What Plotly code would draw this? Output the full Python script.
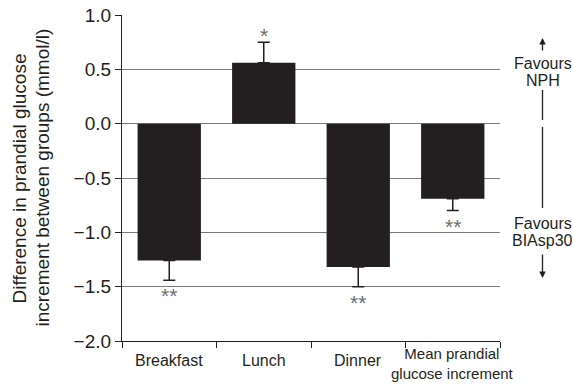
import plotly.graph_objects as go

# Difference in prandial glucose increment (BIAsp30 vs NPH), mmol/l
categories = ["Breakfast", "Lunch", "Dinner", "Mean prandial<br>glucose increment"]
values = [-1.26, 0.56, -1.32, -0.69]
err_up = [0.0, 0.19, 0.0, 0.0]
err_down = [0.18, 0.0, 0.18, 0.11]
significance = ["**", "*", "**", "**"]
y_ticks = [-2.0, -1.5, -1.0, -0.5, 0.0, 0.5, 1.0]

INK = "#231f20"
GRID = "#7a7a7a"
FONT = "Liberation Sans, Arial, Helvetica, sans-serif"

W, H = 573, 384
M_L, M_R, M_T, M_B = 122, 73, 15, 43
PLOT_W = W - M_L - M_R
PLOT_H = H - M_T - M_B


def px(p):
    """Pixel column -> paper x."""
    return (p - M_L) / PLOT_W


def py(p):
    """Pixel row -> paper y."""
    return 1 - (p - M_T) / PLOT_H


x_pos = list(range(len(categories)))

fig = go.Figure()
fig.add_trace(go.Bar(
    x=x_pos, y=values, width=0.67,
    marker=dict(color=INK, line=dict(width=0)),
    error_y=dict(type="data", symmetric=False, array=err_up, arrayminus=err_down,
                 color=INK, thickness=1.5, width=6),
    showlegend=False,
))

# Category labels below the axis; two-line labels sit flush with the bottom edge
for xi, cat in zip(x_pos, categories):
    if "<br>" in cat:
        fig.add_annotation(x=xi, xref="x", y=py(383.5), yref="paper",
                           text=cat, showarrow=False, xanchor="center", yanchor="bottom",
                           font=dict(family=FONT, size=15, color=INK))
    else:
        fig.add_annotation(x=xi, xref="x", y=py(360), yref="paper",
                           text=cat, showarrow=False, xanchor="center", yanchor="middle",
                           font=dict(family=FONT, size=16, color=INK))

# Significance markers beyond the error bars
for xi, v, eu, ed, s in zip(x_pos, values, err_up, err_down, significance):
    if v >= 0:
        ys, shift = v + eu, 7
    else:
        ys, shift = v - ed, -15.5
    fig.add_annotation(x=xi, y=ys, yshift=shift, text=s, showarrow=False,
                       xanchor="center", yanchor="middle",
                       font=dict(family=FONT, size=21, color="#6d6d6d"))

# Y axis title, two lines
for xp, line in [(18.5, "Difference in prandial glucose"),
                 (41.5, "increment between groups (mmol/l)")]:
    fig.add_annotation(x=px(xp), xref="paper", y=py(178), yref="paper",
                       text=line, textangle=-90, showarrow=False,
                       xanchor="center", yanchor="middle",
                       font=dict(family=FONT, size=19, color=INK))

# Direction guide on the right
gx = px(542.5)
for text, p in [("Favours", 63), ("NPH", 81), ("Favours", 223), ("BIAsp30", 240)]:
    fig.add_annotation(x=gx, xref="paper", y=py(p), yref="paper", text=text,
                       showarrow=False, xanchor="center", yanchor="middle",
                       font=dict(family=FONT, size=16, color=INK))
for p0, p1 in [(90, 120), (127, 208)]:
    fig.add_shape(type="line", xref="paper", yref="paper", x0=gx, x1=gx,
                  y0=py(p0), y1=py(p1), line=dict(color=INK, width=1.3))
fig.add_annotation(x=gx, xref="paper", y=py(38), yref="paper", ax=0, ay=14,
                   text="", showarrow=True, arrowhead=2, arrowsize=1,
                   arrowwidth=1.3, arrowcolor=INK)
fig.add_annotation(x=gx, xref="paper", y=py(278), yref="paper", ax=0, ay=-25,
                   text="", showarrow=True, arrowhead=2, arrowsize=1,
                   arrowwidth=1.3, arrowcolor=INK)

fig.update_xaxes(range=[-0.5, len(categories) - 0.5],
                 tickvals=[i - 0.5 for i in range(len(categories) + 1)],
                 showticklabels=False, ticks="outside", ticklen=6, tickwidth=1.2,
                 tickcolor=INK, showline=True, linecolor=INK, linewidth=1.3,
                 showgrid=False, zeroline=False, automargin=False)
fig.update_yaxes(range=[y_ticks[0], y_ticks[-1]], tickvals=y_ticks, tickformat=".1f",
                 ticks="outside", ticklen=6, tickwidth=1.2, tickcolor=INK,
                 showline=True, linecolor=INK, linewidth=1.3,
                 showgrid=True, gridcolor=GRID, gridwidth=1.2, zeroline=False,
                 automargin=False,
                 tickfont=dict(family=FONT, size=19, color=INK))

fig.update_layout(width=W, height=H,
                  margin=dict(l=M_L, r=M_R, t=M_T, b=M_B),
                  paper_bgcolor="white", plot_bgcolor="white",
                  font=dict(family=FONT, color=INK))

fig.write_html("out.html")
